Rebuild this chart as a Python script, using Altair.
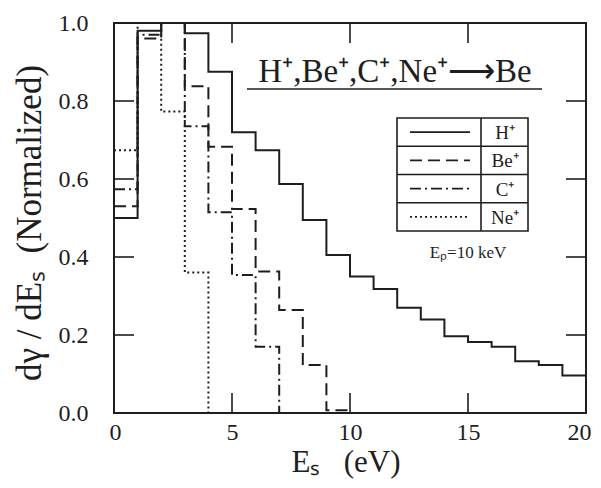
import altair as alt
import pandas as pd

# ---- data (bin width 1 eV, starting at 0 eV) ----
series_names = ["H⁺", "Be⁺", "C⁺", "Ne⁺"]
h_vals = [0.50, 0.98, 1.00, 0.974, 0.875, 0.72, 0.674, 0.587, 0.495, 0.405,
          0.35, 0.318, 0.27, 0.24, 0.197, 0.182, 0.17, 0.133, 0.123, 0.096]
be_vals = [0.53, 0.96, 1.00, 0.838, 0.683, 0.523, 0.363, 0.264, 0.123, 0.007]
c_vals = [0.574, 0.97, 1.00, 0.735, 0.515, 0.354, 0.17]
ne_vals = [0.674, 1.00, 0.773, 0.36]
x_ticks = [0, 5, 10, 15, 20]
y_ticks = [0.0, 0.2, 0.4, 0.6, 0.8, 1.0]
minor_y = [0.2, 0.4, 0.6, 0.8]
minor_x = [5, 10, 15]

all_vals = [h_vals, be_vals, c_vals, ne_vals]
dashes = [[1, 0], [12, 6], [11, 4, 2, 4], [2, 3]]

rows = []
for name, vals in zip(series_names, all_vals):
    for i, v in enumerate(vals):
        rows.append({"series": name, "E": i, "v": v})
    end_v = vals[-1] if len(vals) == 20 else 0.0
    rows.append({"series": name, "E": len(vals), "v": end_v})
df = pd.DataFrame(rows)

W, H = 472, 390
INK = "#1e1e1e"
FONT = "'Liberation Serif', 'Times New Roman', Times, serif"

xs = alt.Scale(domain=[0, 20], nice=False, zero=False)
ys = alt.Scale(domain=[0, 1], nice=False)
xa = alt.Axis(values=x_ticks, format="d", title=None, ticks=False, domain=False,
              grid=False, labelFont=FONT, labelFontSize=24, labelColor=INK,
              labelPadding=7, labelFlush=True, labelFlushOffset=5)
ya = alt.Axis(values=y_ticks, format=".1f", title=None, ticks=False, domain=False,
              grid=False, labelFont=FONT, labelFontSize=24, labelColor=INK,
              labelPadding=26)

lines = alt.Chart(df).mark_line(interpolate="step-after", strokeWidth=2, color=INK, clip=False).encode(
    x=alt.X("E:Q", scale=xs, axis=xa),
    y=alt.Y("v:Q", scale=ys, axis=ya),
    strokeDash=alt.StrokeDash("series:N", scale=alt.Scale(domain=series_names, range=dashes), legend=None),
    detail="series:N",
)

# inward ticks
yt = pd.DataFrame({"t": minor_y})
xt = pd.DataFrame({"t": minor_x})
tick_left = alt.Chart(yt).mark_rule(color=INK, strokeWidth=1.6).encode(
    y=alt.Y("t:Q", scale=ys, axis=ya), x=alt.value(0), x2=alt.value(20))
tick_right = alt.Chart(yt).mark_rule(color=INK, strokeWidth=1.6).encode(
    y=alt.Y("t:Q", scale=ys, axis=ya), x=alt.value(W - 20), x2=alt.value(W))
tick_bot = alt.Chart(xt).mark_rule(color=INK, strokeWidth=1.6).encode(
    x=alt.X("t:Q", scale=xs, axis=xa), y=alt.value(H), y2=alt.value(H - 20))
tick_top = alt.Chart(xt).mark_rule(color=INK, strokeWidth=1.6).encode(
    x=alt.X("t:Q", scale=xs, axis=xa), y=alt.value(0), y2=alt.value(20))

one = pd.DataFrame({"a": [0]})

# in-plot title with underline
title = alt.Chart(one).mark_text(text="H⁺,Be⁺,C⁺,Ne⁺⟶Be", font=FONT, fontSize=33, color=INK,
                                 align="center", baseline="alphabetic").encode(
    x=alt.value(281), y=alt.value(59))
underline = alt.Chart(one).mark_rule(color=INK, strokeWidth=1.6).encode(
    x=alt.value(133), x2=alt.value(428), y=alt.value(66))

# legend table
LX0, LX1, LXD = 283, 414, 367
LY0, LY1 = 95, 208
rh = (LY1 - LY0) / 4
layers = []
box = alt.Chart(one).mark_rect(fillOpacity=0, stroke=INK, strokeWidth=1.6).encode(
    x=alt.value(LX0), x2=alt.value(LX1), y=alt.value(LY0), y2=alt.value(LY1))
layers.append(box)
layers.append(alt.Chart(one).mark_rule(color=INK, strokeWidth=1.6).encode(
    x=alt.value(LXD), y=alt.value(LY0), y2=alt.value(LY1)))
for k, (name, dsh) in enumerate(zip(series_names, dashes)):
    cy = LY0 + rh * (k + 0.5)
    if k > 0:
        layers.append(alt.Chart(one).mark_rule(color=INK, strokeWidth=1.4).encode(
            x=alt.value(LX0), x2=alt.value(LX1), y=alt.value(LY0 + rh * k)))
    layers.append(alt.Chart(one).mark_rule(color=INK, strokeWidth=1.6, strokeDash=dsh).encode(
        x=alt.value(296), x2=alt.value(356), y=alt.value(cy)))
    layers.append(alt.Chart(one).mark_text(text=name, font=FONT, fontSize=19, color=INK,
                                           align="center", baseline="middle").encode(
        x=alt.value(391), y=alt.value(cy + 1)))

ep = alt.Chart(one).mark_text(text="Eₚ=10 keV", font=FONT, fontSize=17, color=INK,
                              align="center", baseline="alphabetic").encode(
    x=alt.value(354), y=alt.value(235))

# axis titles as text
xtitle = alt.Chart(one).mark_text(text="Eₛ\u00a0\u00a0\u00a0(eV)", font=FONT, fontSize=31, color=INK,
                                  align="center", baseline="alphabetic").encode(
    x=alt.value(232), y=alt.value(449))
ytitle = alt.Chart(one).mark_text(text="dγ / dEₛ\u00a0\u00a0(Normalized)", font=FONT,
                                  fontSize=35, color=INK, angle=270,
                                  align="center", baseline="middle").encode(
    x=alt.value(-84), y=alt.value(200))

chart = alt.layer(
    lines, tick_left, tick_right, tick_bot, tick_top, title, underline, *layers, ep, xtitle, ytitle
).properties(
    width=W, height=H,
    autosize=alt.AutoSizeParams(type="none"),
    padding={"left": 106, "top": 15, "right": 7, "bottom": 67},
    background="white",
).configure_view(stroke=INK, strokeWidth=2)

chart.save("out.html", embed_options={"renderer": "svg", "actions": False})
